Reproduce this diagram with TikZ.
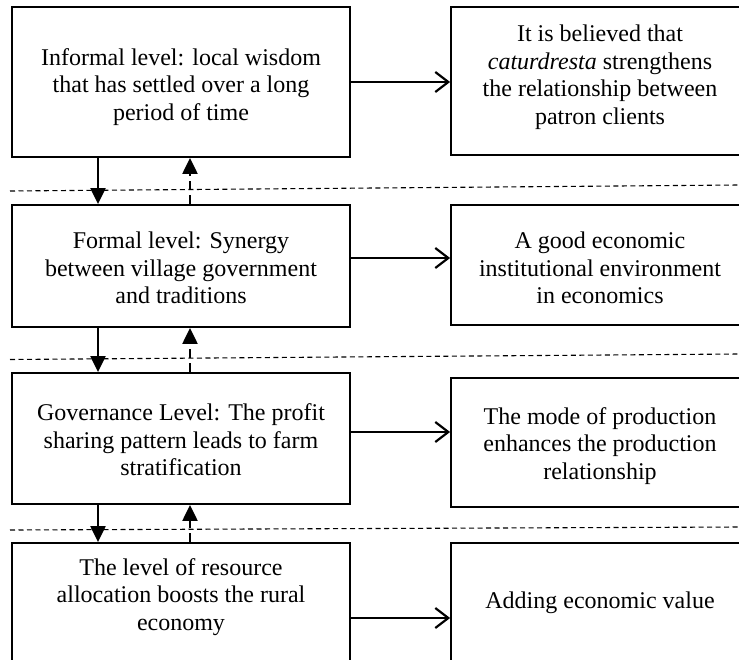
\documentclass[tikz,border=0pt]{standalone}
\usepackage{fontspec}
\setmainfont{Liberation Serif}
\usetikzlibrary{arrows.meta,calc}
\begin{document}
\begin{tikzpicture}[x=1pt,y=-1pt,
  box/.style={draw,line width=1.8pt,inner sep=0pt},
  txt/.style={align=center,font=\fontsize{24}{27.5}\selectfont,inner sep=0pt},
  side/.style={line width=2.2pt,-{Straight Barb[length=13pt,width=20pt,line width=2.2pt]}},
  down/.style={line width=2.2pt,-{Triangle[length=16pt,width=15pt]}},
  up/.style={line width=2.2pt,dash pattern=on 9pt off 5pt,-{Triangle[length=16pt,width=15pt]}},
  sep/.style={line width=1.1pt,dash pattern=on 5pt off 3.5pt,black}]
\useasboundingbox (0,0) rectangle (739,659);
\clip (0,0) rectangle (739,659);
% left boxes
\node[box,minimum width=338pt,minimum height=150pt] (L1) at (181,82) {};
\node[box,minimum width=338pt,minimum height=122pt] (L2) at (181,266) {};
\node[box,minimum width=338pt,minimum height=131pt] (L3) at (181,438.5) {};
\node[box,minimum width=338pt,minimum height=140pt] (L4) at (181,613) {};
% right boxes
\node[box,minimum width=298pt,minimum height=148pt] (R1) at (600,81) {};
\node[box,minimum width=298pt,minimum height=120pt] (R2) at (600,265) {};
\node[box,minimum width=298pt,minimum height=129pt] (R3) at (600,442.5) {};
\node[box,minimum width=298pt,minimum height=140pt] (R4) at (600,613) {};
% texts
\node[txt] (T1) at (181,87) {Informal level: local wisdom\\that has settled over a long\\period of time};
\node[txt] (T2) at (181,268) {Formal level: Synergy\\between village government\\and traditions};
\node[txt] (T3) at (181,440) {Governance Level: The profit\\sharing pattern leads to farm\\stratification};
\node[txt] (T4) at (181,597) {The level of resource\\allocation boosts the rural\\economy};
\node[txt] (U1) at (600,77) {It is believed that\\\textit{caturdresta} strengthens\\the relationship between\\patron clients};
\node[txt] (U2) at (600,268) {A good economic\\institutional environment\\in economics};
\node[txt] (U3) at (600,446) {The mode of production\\enhances the production\\relationship};
\node[txt] (U4) at (600,603) {Adding economic value};
% separators
\draw[sep] (10,191) -- (739,185);
\draw[sep] (10,359.5) -- (739,354);
\draw[sep] (10,530) -- (739,527);
% horizontal arrows
\draw[side] (L1.east |- 0,82) -- (R1.west |- 0,82);
\draw[side] (L2.east |- 0,258) -- (R2.west |- 0,258);
\draw[side] (L3.east |- 0,432) -- (R3.west |- 0,432);
\draw[side] (L4.east |- 0,618) -- (R4.west |- 0,618);
% vertical arrows
\draw[down] (L1.south -| 98,0) -- (L2.north -| 98,0);
\draw[up] (L2.north -| 190,0) -- (L1.south -| 190,0);
\draw[down] (L2.south -| 98,0) -- (L3.north -| 98,0);
\draw[up] (L3.north -| 190,0) -- (L2.south -| 190,0);
\draw[down] (L3.south -| 98,0) -- (L4.north -| 98,0);
\draw[up] (L4.north -| 190,0) -- (L3.south -| 190,0);
\end{tikzpicture}
\end{document}
